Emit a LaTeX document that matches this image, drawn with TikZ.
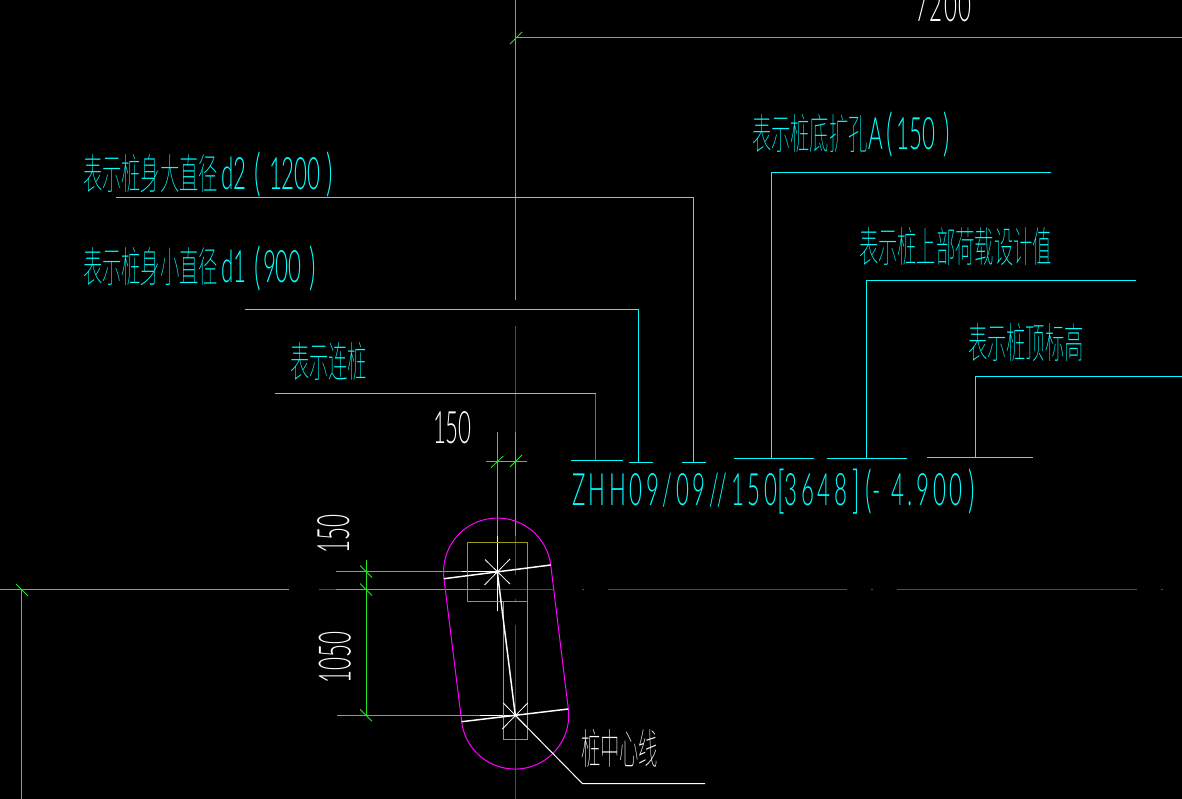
\documentclass[tikz,border=0pt]{standalone}
\usepackage{fontspec}
\newfontfamily\zhf[FakeStretch=0.46]{Noto Sans CJK SC Thin}
\newfontfamily\latf[FakeStretch=0.5]{Lato Light}
\newfontfamily\latg[FakeStretch=0.5,LetterSpace=8]{Lato Light}
\newlength\pxu \setlength\pxu{0.75pt}
\newcommand\zh[1]{{\fontsize{31.5pt}{31.5pt}\zhf #1}}
\newcommand\la[1]{{\fontsize{33.5pt}{33.5pt}\latf #1}}
\newcommand\lb[1]{{\fontsize{33.5pt}{33.5pt}\latg #1}}
\newcommand\pa[1]{\raisebox{-1.5pt}{\fontsize{38pt}{38pt}\latf #1}}
\newcommand\gp[1]{\hspace*{#1\pxu}}
\definecolor{cadgreen}{HTML}{1FE61F}
\definecolor{cadred}{HTML}{D01414}
\definecolor{cadcyan}{HTML}{00FFFF}
\definecolor{cadmag}{HTML}{FF00FF}
\definecolor{cadyel}{HTML}{9A9A14}
\tikzset{
  gl/.style={draw=cadgreen,line width=0.75pt},
  rl/.style={draw=cadred,line width=0.75pt},
  cl/.style={draw=cadcyan,line width=0.75pt},
  ml/.style={draw=cadmag,line width=0.75pt},
  wl/.style={draw=white,line width=0.75pt},
  wt/.style={draw=white,line width=1.1pt},
  tk/.style={draw=cadgreen,line width=0.6pt},
  starline/.style={draw=white,line width=0.6pt},
  lbl/.style={anchor=base west,inner sep=0pt,outer sep=0pt,text=cadcyan},
  wlbl/.style={anchor=base west,inner sep=0pt,outer sep=0pt,text=white}
}
\begin{document}
\begin{tikzpicture}[x=0.75pt,y=-0.75pt]
\useasboundingbox (0,0) rectangle (1182,799);
\clip (0,0) rectangle (1182,799);
\fill[black] (0,0) rectangle (1182,799);
% grid axes, vertical
\draw[gl] (515.5,0) -- (515.5,300);
\draw[rl] (515.5,326) -- (515.5,432);
\draw[gl] (515.5,432) -- (515.5,536);
\draw[rl] (515.5,536) -- (515.5,575);
\draw[rl] (515.5,599) -- (515.5,601);
\draw[rl] (515.5,625) -- (515.5,799);
\draw[gl] (515,37.5) -- (1182,37.5);
\draw[tk] (510,44) -- (522,32);
\draw[gl] (21.5,589.5) -- (21.5,799);
% grid axis, horizontal
\draw[gl] (0,589.5) -- (289,589.5);
\draw[rl] (319,589.5) -- (336,589.5);
\draw[gl] (336,589.5) -- (480,589.5);
\draw[rl] (480,589.5) -- (553,589.5);
\draw[rl] (582,589.5) -- (584,589.5);
\draw[rl] (608,589.5) -- (846.5,589.5);
\draw[rl] (871,589.5) -- (873,589.5);
\draw[rl] (897,589.5) -- (1137,589.5);
\draw[rl] (1160.5,589.5) -- (1163,589.5);
\draw[tk] (16,584) -- (28,596);
% dimensions
\draw[gl] (497.5,432) -- (497.5,536);
\draw[wl] (497.5,536) -- (497.5,611);
\draw[gl] (486,461.5) -- (527,461.5);
\draw[tk] (491,467.7) -- (503.3,456);
\draw[tk] (510,467) -- (522,455);
\draw[gl] (366.5,560) -- (366.5,715.5);
\draw[gl] (336,571.5) -- (461.7,571.5);
\draw[wl] (461.7,571.5) -- (497.3,571.5);
\draw[gl] (337,715.5) -- (480,715.5);
\draw[wl] (480,715.5) -- (515.5,715.5);
\draw[tk] (360,565.5) -- (372,577.5);
\draw[tk] (360,583.5) -- (372,595.5);
\draw[tk] (360,709.3) -- (372,721.3);
% column outlines
\draw[draw=cadyel,line width=0.75pt] (467.5,542.5) rectangle (527.5,601.5);
\draw[gl] (503.5,601.5) -- (503.5,739.5) -- (527.5,739.5) -- (527.5,601.5);
% pile
\draw[ml]
  plot[domain=-187:-7,samples=60] ({497.35+53.8*cos(\x)},{571.85+53.8*sin(\x)})
  -- plot[domain=-7:173,samples=60] ({515+53.7*cos(\x)},{715.35+53.7*sin(\x)})
  -- cycle;
\draw[wt] (444,578.7) -- (550.7,565);
\draw[wt] (461.7,721.7) -- (568.3,709);
\draw[wt] (497.3,571.8) -- (515.3,715.3);
\draw[starline] (485,559.5) -- (510,584);
\draw[starline] (510,559) -- (484.5,585);
\draw[starline] (503.3,703) -- (527.7,728);
\draw[starline] (527.7,703) -- (502.3,729);
\draw[wl] (515.3,715.3) -- (582.3,783.5) -- (705,783.5);
% leaders
\draw[cl] (116,197.5) -- (693.5,197.5) -- (693.5,462.5);
\draw[cl] (682,462.5) -- (706,462.5);
\draw[cl] (245,309.5) -- (638.5,309.5) -- (638.5,462.5);
\draw[cl] (629,462.5) -- (653,462.5);
\draw[cl] (275,393.5) -- (595.5,393.5);
\draw[ml] (595.5,393.5) -- (595.5,460.5);
\draw[cl] (571,460.5) -- (623,460.5);
\draw[cl] (1051,172.5) -- (771.5,172.5) -- (771.5,458);
\draw[cl] (734,458.5) -- (814,458.5);
\draw[cl] (1136,280.5) -- (866.5,280.5) -- (866.5,458);
\draw[cl] (827,458.5) -- (907,458.5);
\draw[cl] (1182,376.5) -- (975.5,376.5) -- (975.5,457.5);
\draw[cl] (927,457.5) -- (1033,457.5);
% labels
\node[lbl] (t1) at (83,189) {\zh{表示桩身大直径}\gp{3}\la{d2}\gp{8}\pa{(}\gp{8}\la{1200}\gp{6}\pa{)}};
\node[lbl] (t2) at (83,282) {\zh{表示桩身小直径}\gp{3}\la{d1}\gp{8}\pa{(}\gp{2}\la{900}\gp{8}\pa{)}};
\node[lbl] (t3) at (290,377) {\zh{表示连桩}};
\node[lbl] (t4) at (752,149) {\zh{表示桩底扩孔}\gp{1}\la{A}\gp{3}\pa{(}\gp{3}\la{150}\gp{9}\pa{)}};
\node[lbl] (t5) at (859,262) {\zh{表示桩上部荷载设计值}};
\node[lbl] (t6) at (968,358) {\zh{表示桩顶标高}};
\node[lbl] (t7) at (572,505) {\lb{ZHH09/09//150}\pa{[}\lb{3648}\gp{5}\pa{]}\gp{6}\pa{(}\lb{-}\gp{11}\lb{4.900}\gp{6}\pa{)}};
\node[wlbl] (t8) at (433,443) {\la{150}};
\node[wlbl] (t9) at (915,22) {\la{7}\gp{2}\la{2}\gp{2}\la{0}\gp{1}\la{0}};
\node[wlbl,rotate=90] (t10) at (349,553) {\la{150}};
\node[wlbl,rotate=90] (t11) at (350.5,683) {\la{1050}};
\node[wlbl] (t12) at (581,764) {\zh{桩中心线}};
\end{tikzpicture}
\end{document}
